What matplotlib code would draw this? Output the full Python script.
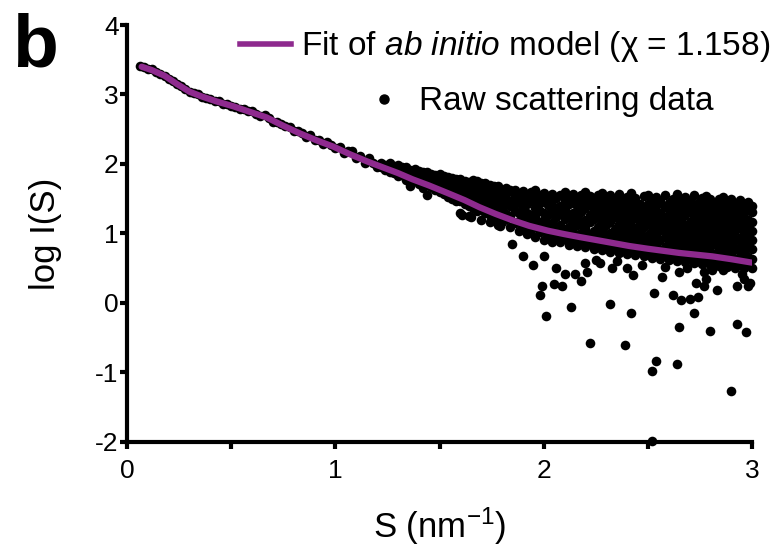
import matplotlib
matplotlib.use("Agg")
import matplotlib.pyplot as plt
from matplotlib.lines import Line2D

plt.rcParams['font.family'] = ['Liberation Sans', 'DejaVu Sans']
plt.rcParams['mathtext.fontset'] = 'custom'
plt.rcParams['mathtext.rm'] = 'Liberation Sans'
plt.rcParams['mathtext.it'] = 'Liberation Sans:italic'
plt.rcParams['axes.unicode_minus'] = False

# fit of the ab initio model
fit_s = [0.07, 0.12, 0.18, 0.24, 0.30, 0.36, 0.43, 0.51, 0.59, 0.67, 0.75, 0.83,
         0.91, 0.99, 1.07, 1.15, 1.22, 1.30, 1.37, 1.45, 1.54, 1.62, 1.69, 1.77,
         1.85, 1.93, 2.02, 2.10, 2.17, 2.30, 2.41, 2.50, 2.65, 2.81, 2.90, 3.00]
fit_logi = [3.40, 3.35, 3.27, 3.15, 3.04, 2.97, 2.90, 2.83, 2.75, 2.67, 2.55, 2.44,
            2.34, 2.25, 2.14, 2.04, 1.96, 1.87, 1.78, 1.69, 1.58, 1.48, 1.38, 1.28,
            1.19, 1.11, 1.04, 0.99, 0.95, 0.88, 0.82, 0.78, 0.72, 0.67, 0.63, 0.58]

# raw data, low s (tight around the fit)
low_s = [0.06, 0.08, 0.10, 0.12, 0.14, 0.16, 0.18, 0.20, 0.22, 0.24, 0.26, 0.28,
         0.30, 0.32, 0.34, 0.36, 0.38, 0.40, 0.42, 0.44, 0.46, 0.48, 0.50, 0.52,
         0.54, 0.56, 0.58, 0.60, 0.62, 0.64, 0.66, 0.68, 0.70, 0.72, 0.74, 0.76,
         0.78, 0.80, 0.82, 0.84, 0.86, 0.88, 0.90, 0.92, 0.94, 0.96, 0.98, 1.00,
         1.02, 1.04, 1.06, 1.08, 1.10, 1.12, 1.14, 1.16, 1.18, 1.20]
low_logi = [3.41, 3.39, 3.37, 3.36, 3.32, 3.30, 3.26, 3.23, 3.19, 3.15, 3.12, 3.08,
            3.04, 3.02, 3.00, 2.97, 2.95, 2.93, 2.91, 2.90, 2.87, 2.87, 2.84, 2.82,
            2.79, 2.79, 2.76, 2.76, 2.72, 2.69, 2.70, 2.66, 2.61, 2.61, 2.58, 2.54,
            2.53, 2.47, 2.47, 2.44, 2.39, 2.41, 2.35, 2.35, 2.29, 2.32, 2.27, 2.23,
            2.25, 2.16, 2.18, 2.18, 2.09, 2.11, 2.01, 2.08, 2.02, 1.96]

# raw data, middle s (band widening)
mid_s = [1.22, 1.24, 1.26, 1.28, 1.30, 1.32, 1.34, 1.36, 1.38, 1.40, 1.42, 1.44,
         1.46, 1.48, 1.50, 1.52, 1.54, 1.56, 1.58, 1.60, 1.62, 1.64, 1.66, 1.68,
         1.70, 1.72, 1.74, 1.76, 1.78]
mid_logi = [
    [1.96, 2.02], [1.92, 1.99], [1.89, 1.96, 2.02], [1.87, 1.97],
    [1.83, 1.91, 1.99], [1.84, 1.95], [1.77, 1.87, 1.96], [1.69, 1.82, 1.92],
    [1.75, 1.86, 1.93], [1.71, 1.80, 1.90], [1.65, 1.76, 1.88],
    [1.56, 1.72, 1.82, 1.89], [1.67, 1.78, 1.86], [1.62, 1.73, 1.84],
    [1.60, 1.70, 1.80, 1.86], [1.57, 1.66, 1.76, 1.83], [1.52, 1.63, 1.73, 1.81],
    [1.50, 1.60, 1.70, 1.80], [1.46, 1.57, 1.67, 1.78],
    [1.30, 1.47, 1.58, 1.70, 1.79], [1.42, 1.53, 1.65, 1.76],
    [1.25, 1.40, 1.51, 1.62, 1.74], [1.37, 1.48, 1.59, 1.70, 1.77],
    [1.33, 1.44, 1.56, 1.67, 1.75], [1.20, 1.35, 1.48, 1.60, 1.72],
    [1.30, 1.41, 1.53, 1.64, 1.73], [1.17, 1.27, 1.39, 1.50, 1.62, 1.70],
    [1.24, 1.36, 1.47, 1.58, 1.69], [1.12, 1.22, 1.33, 1.45, 1.56, 1.68],
]

# raw data, high s (wide noisy band)
high_s = [1.80, 1.82, 1.84, 1.86, 1.88, 1.90, 1.92, 1.94, 1.96, 1.98, 2.00, 2.02,
          2.04, 2.06, 2.08, 2.10, 2.12, 2.14, 2.16, 2.18, 2.20, 2.22, 2.24, 2.26,
          2.28, 2.30, 2.32, 2.34, 2.36, 2.38, 2.40, 2.42, 2.44, 2.46, 2.48, 2.50,
          2.52, 2.54, 2.56, 2.58, 2.60, 2.62, 2.64, 2.66, 2.68, 2.70, 2.72, 2.74,
          2.76, 2.78, 2.80, 2.82, 2.84, 2.86, 2.88, 2.90, 2.92, 2.94, 2.96, 2.98,
          3.00]
high_logi = [
    [1.16, 1.30, 1.37, 1.51, 1.60], [1.21, 1.28, 1.45, 1.57, 1.66],
    [1.09, 1.25, 1.39, 1.46, 1.62], [1.15, 1.33, 1.42, 1.54, 1.63],
    [1.04, 1.18, 1.29, 1.48, 1.57], [1.10, 1.24, 1.38, 1.51, 1.61],
    [0.99, 1.12, 1.30, 1.42, 1.53], [1.05, 1.20, 1.27, 1.46, 1.59],
    [0.95, 1.11, 1.23, 1.36, 1.50, 1.62], [1.02, 1.16, 1.33, 1.44, 1.55],
    [0.91, 1.07, 1.19, 1.30, 1.49, 1.58], [0.98, 1.14, 1.27, 1.41, 1.52],
    [0.88, 1.04, 1.15, 1.33, 1.46, 1.57], [0.95, 1.09, 1.24, 1.36, 1.51],
    [0.87, 1.01, 1.12, 1.29, 1.40, 1.55], [0.92, 1.06, 1.21, 1.35, 1.47, 1.60],
    [0.83, 0.99, 1.10, 1.27, 1.42, 1.52], [0.90, 1.02, 1.18, 1.30, 1.45, 1.57],
    [0.82, 0.96, 1.12, 1.23, 1.39, 1.50], [0.87, 1.01, 1.14, 1.31, 1.43, 1.55],
    [0.80, 0.94, 1.08, 1.20, 1.37, 1.49, 1.59], [0.85, 0.99, 1.16, 1.26, 1.41, 1.54],
    [0.78, 0.92, 1.04, 1.21, 1.32, 1.48], [0.83, 0.97, 1.10, 1.27, 1.39, 1.56],
    [0.76, 0.90, 1.03, 1.18, 1.30, 1.46, 1.58], [0.81, 0.95, 1.12, 1.22, 1.37, 1.51],
    [0.74, 0.88, 1.00, 1.16, 1.28, 1.44, 1.55], [0.79, 0.93, 1.06, 1.23, 1.35, 1.49],
    [0.72, 0.86, 0.98, 1.14, 1.26, 1.42, 1.57], [0.77, 0.91, 1.04, 1.20, 1.33, 1.47],
    [0.71, 0.84, 0.99, 1.10, 1.24, 1.40, 1.53], [0.75, 0.89, 1.02, 1.18, 1.31, 1.45, 1.58],
    [0.69, 0.82, 0.96, 1.08, 1.25, 1.36, 1.51], [0.73, 0.87, 1.00, 1.16, 1.29, 1.43],
    [0.67, 0.81, 0.93, 1.09, 1.22, 1.34, 1.54], [0.71, 0.85, 0.98, 1.14, 1.27, 1.42, 1.56],
    [0.65, 0.79, 0.92, 1.04, 1.20, 1.32, 1.48], [0.69, 0.83, 0.96, 1.12, 1.25, 1.40, 1.53],
    [0.63, 0.76, 0.90, 1.05, 1.17, 1.30, 1.46], [0.67, 0.80, 0.95, 1.08, 1.23, 1.38, 1.55],
    [0.62, 0.75, 0.87, 1.02, 1.15, 1.28, 1.44], [0.66, 0.79, 0.93, 1.06, 1.21, 1.37, 1.50],
    [0.60, 0.73, 0.86, 0.99, 1.14, 1.26, 1.41, 1.57], [0.64, 0.78, 0.90, 1.05, 1.19, 1.34, 1.48],
    [0.59, 0.72, 0.84, 0.98, 1.11, 1.27, 1.39, 1.53], [0.63, 0.76, 0.89, 1.04, 1.17, 1.32, 1.46],
    [0.57, 0.70, 0.83, 0.96, 1.10, 1.23, 1.38, 1.55], [0.61, 0.74, 0.88, 1.01, 1.16, 1.30, 1.44],
    [0.56, 0.69, 0.81, 0.95, 1.08, 1.24, 1.36, 1.51], [0.60, 0.73, 0.86, 1.00, 1.13, 1.28, 1.42, 1.54],
    [0.55, 0.67, 0.80, 0.94, 1.07, 1.21, 1.35, 1.49], [0.59, 0.71, 0.85, 0.99, 1.12, 1.27, 1.41],
    [0.53, 0.66, 0.79, 0.92, 1.06, 1.19, 1.33, 1.50], [0.58, 0.70, 0.84, 0.97, 1.11, 1.25, 1.39, 1.53],
    [0.52, 0.64, 0.78, 0.91, 1.04, 1.18, 1.32, 1.46], [0.56, 0.69, 0.82, 0.96, 1.10, 1.24, 1.38, 1.50],
    [0.51, 0.63, 0.77, 0.90, 1.03, 1.17, 1.30, 1.44], [0.55, 0.67, 0.81, 0.94, 1.08, 1.22, 1.36, 1.48],
    [0.50, 0.62, 0.75, 0.89, 1.02, 1.16, 1.29, 1.42], [0.54, 0.66, 0.80, 0.93, 1.07, 1.20, 1.34, 1.45],
    [0.51, 0.63, 0.77, 0.90, 1.04, 1.17, 1.31, 1.40],
]

# scattered low points below the band
out_s = [1.61, 1.65, 1.79, 1.85, 1.90, 1.95, 2.00, 1.99, 1.98, 2.01, 2.05, 2.06,
         2.09, 2.10, 2.13, 2.15, 2.18, 2.20, 2.21, 2.22, 2.25, 2.27, 2.32, 2.33,
         2.35, 2.39, 2.40, 2.42, 2.43, 2.47, 2.52, 2.52, 2.53, 2.54, 2.57, 2.58,
         2.62, 2.64, 2.65, 2.65, 2.66, 2.69, 2.70, 2.72, 2.73, 2.74, 2.77, 2.77,
         2.78, 2.80, 2.81, 2.83, 2.86, 2.90, 2.93, 2.93, 2.95, 2.96, 2.97, 2.98,
         2.99]
out_logi = [1.26, 1.24, 1.11, 0.85, 0.68, 0.55, 0.67, 0.25, 0.11, -0.19, 0.27, 0.50,
            0.25, 0.42, -0.06, 0.42, 0.31, 0.57, 0.45, -0.58, 0.62, 0.57, -0.02, 0.51,
            0.60, -0.61, 0.50, -0.15, 0.40, 0.55, -0.98, -1.99, 0.15, -0.84, 0.37, 0.52,
            0.11, -0.88, -0.34, 0.45, 0.04, 0.51, 0.05, -0.14, 0.29, 0.08, 0.24, 0.45,
            0.35, -0.40, 0.47, 0.18, 0.47, -1.27, -0.31, 0.25, 0.42, 0.35, -0.42, 0.24,
            0.28]

raw_s = list(low_s)
raw_logi = list(low_logi)
for s_list, y_lists in [(mid_s, mid_logi), (high_s, high_logi)]:
    for s, ys in zip(s_list, y_lists):
        raw_s += [s] * len(ys)
        raw_logi += ys
raw_s += out_s
raw_logi += out_logi

purple = '#8e2a8e'

fig = plt.figure(figsize=(7.76, 5.51), dpi=100)
ax = fig.add_axes([0.1637, 0.198, 0.8054, 0.7566])

ax.scatter(raw_s, raw_logi, s=48, c='black', linewidths=0, clip_on=False, zorder=2)
ax.plot(fit_s, fit_logi, color=purple, lw=4.5, solid_capstyle='round',
        solid_joinstyle='round', zorder=3)

ax.set_xlim(0, 3)
ax.set_ylim(-2, 4)
for side in ['top', 'right']:
    ax.spines[side].set_visible(False)
for side in ['left', 'bottom']:
    ax.spines[side].set_linewidth(3)
ax.set_xticks([0, 1, 2, 3])
ax.set_xticks([0.5, 1.5, 2.5], minor=True)
ax.set_yticks([-2, -1, 0, 1, 2, 3, 4])
ax.tick_params(which='both', direction='out', length=5, width=3)
ax.tick_params(axis='x', labelsize=19, pad=7)
ax.tick_params(axis='y', labelsize=19, pad=1)

ax.set_xlabel('S (nm$^{-1}$)', fontsize=25)
ax.set_ylabel('log I(S)', fontsize=25)
ax.xaxis.set_label_coords(0.5, -0.152)
ax.yaxis.set_label_coords(-0.104, 0.5)

fit_handle = Line2D([], [], color=purple, lw=4)
raw_handle = Line2D([], [], ls='none', marker='o', color='black', markersize=6.5)
fig.legend([fit_handle], ['Fit of $\\mathit{ab\\ initio}$ model (\u03c7 = 1.158)'],
           loc='center right', bbox_to_anchor=(0.993, 0.915), frameon=False,
           fontsize=24, handlelength=1.55, handletextpad=0.3, borderpad=0,
           borderaxespad=0)
fig.legend([raw_handle], ['Raw scattering data'],
           loc='center left', bbox_to_anchor=(0.473, 0.815), frameon=False,
           fontsize=24, handlelength=1.0, handletextpad=0.55, borderpad=0,
           borderaxespad=0)

fig.text(0.016, 0.880, 'b', fontsize=54, fontweight='bold', va='baseline', ha='left')

fig.savefig('out.png', dpi=100)
